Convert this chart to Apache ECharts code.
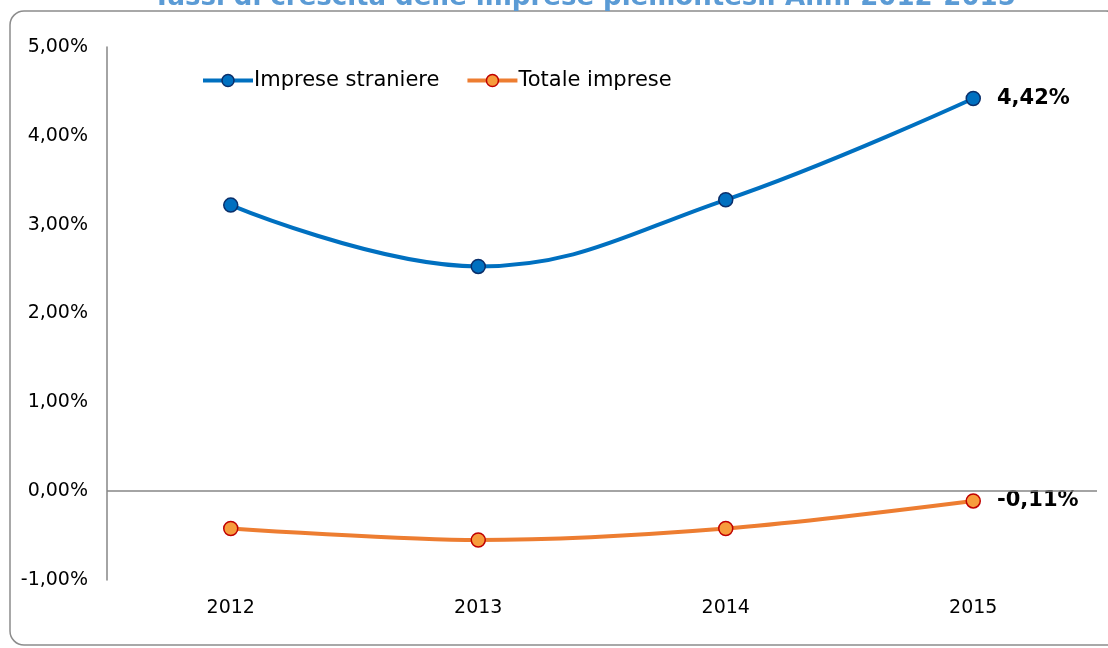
<!DOCTYPE html>
<html>
<head>
<meta charset="utf-8">
<script src="https://cdn.jsdelivr.net/npm/echarts@6/dist/echarts.min.js"></script>
<style>
  html, body { margin: 0; padding: 0; background: #fff; }
  #chart { width: 1108px; height: 648px; }
</style>
</head>
<body>
<div id="chart"></div>
<script>
// dati del grafico
const anni = ['2012', '2013', '2014', '2015']
const impreseStraniere = [3.22, 2.53, 3.28, 4.42]
const totaleImprese = [-0.42, -0.55, -0.42, -0.11]
const yTicks = [-1, 0, 1, 2, 3, 4, 5]

const fmt = (v) => v.toFixed(2).replace('.', ',') + '%'
const font = 'DejaVu Sans, Verdana, sans-serif'

// solo l'ultimo punto ha l'etichetta
const withLastLabel = (arr) => arr.map((v, i) => i === arr.length - 1
  ? { value: v, label: { show: true, position: 'right', distance: 16, formatter: (p) => fmt(p.value), fontWeight: 'bold', fontSize: 21, color: '#000', fontFamily: font } }
  : v)

const chart = echarts.init(document.getElementById('chart'))
chart.setOption({
  animation: false,
  title: {
    text: 'Tassi di crescita delle imprese piemontesi. Anni 2012-2015',
    left: 148,
    top: -20,
    textStyle: { color: '#5B9BD5', fontSize: 26, fontWeight: 'bold', fontFamily: font }
  },
  graphic: [{
    type: 'rect',
    shape: { x: 10, y: 11, width: 1110, height: 634, r: 14 },
    style: { fill: 'none', stroke: '#8c8c8c', lineWidth: 1.5 },
    silent: true,
    z: -1
  }],
  legend: {
    left: 196,
    top: 65,
    itemWidth: 50,
    itemHeight: 15,
    itemGap: 26,
    textStyle: { fontSize: 21, color: '#000', fontFamily: font, padding: [0, 0, 0, -4] },
    data: [
      { name: 'Imprese straniere', lineStyle: { width: 4, color: '#0070C0' }, itemStyle: { color: '#0070C0', borderColor: '#0A2F6B', borderWidth: 1.5 } },
      { name: 'Totale imprese', lineStyle: { width: 4, color: '#ED7D31' }, itemStyle: { color: '#F79C3C', borderColor: '#C00000', borderWidth: 1.5 } }
    ]
  },
  grid: { left: 107, right: 11, top: 47, bottom: 68 },
  xAxis: {
    type: 'category',
    data: anni,
    boundaryGap: true,
    axisLine: { show: false, onZero: false },
    axisTick: { show: false },
    axisLabel: { fontSize: 19, color: '#000', fontFamily: font, margin: 19 },
    splitLine: { show: false }
  },
  yAxis: {
    type: 'value',
    min: yTicks[0],
    max: yTicks[yTicks.length - 1],
    interval: 1,
    axisLine: { show: true, lineStyle: { color: '#868686', width: 1.5 } },
    axisTick: { show: false },
    splitLine: { show: false },
    axisLabel: { fontSize: 19, color: '#000', fontFamily: font, margin: 19, formatter: (v) => fmt(v) }
  },
  series: [
    {
      name: 'Imprese straniere',
      type: 'line',
      smooth: 0.4,
      data: withLastLabel(impreseStraniere),
      symbol: 'circle',
      symbolSize: 14,
      lineStyle: { color: '#0070C0', width: 4 },
      itemStyle: { color: '#0070C0', borderColor: '#0A2F6B', borderWidth: 1.5 },
      markLine: {
        silent: true,
        symbol: 'none',
        label: { show: false },
        lineStyle: { color: '#868686', width: 1.5, type: 'solid' },
        data: [{ yAxis: 0 }]
      }
    },
    {
      name: 'Totale imprese',
      type: 'line',
      smooth: 0.3,
      data: withLastLabel(totaleImprese),
      symbol: 'circle',
      symbolSize: 14,
      lineStyle: { color: '#ED7D31', width: 4 },
      itemStyle: { color: '#F79C3C', borderColor: '#C00000', borderWidth: 1.5 }
    }
  ]
})
</script>
</body>
</html>
